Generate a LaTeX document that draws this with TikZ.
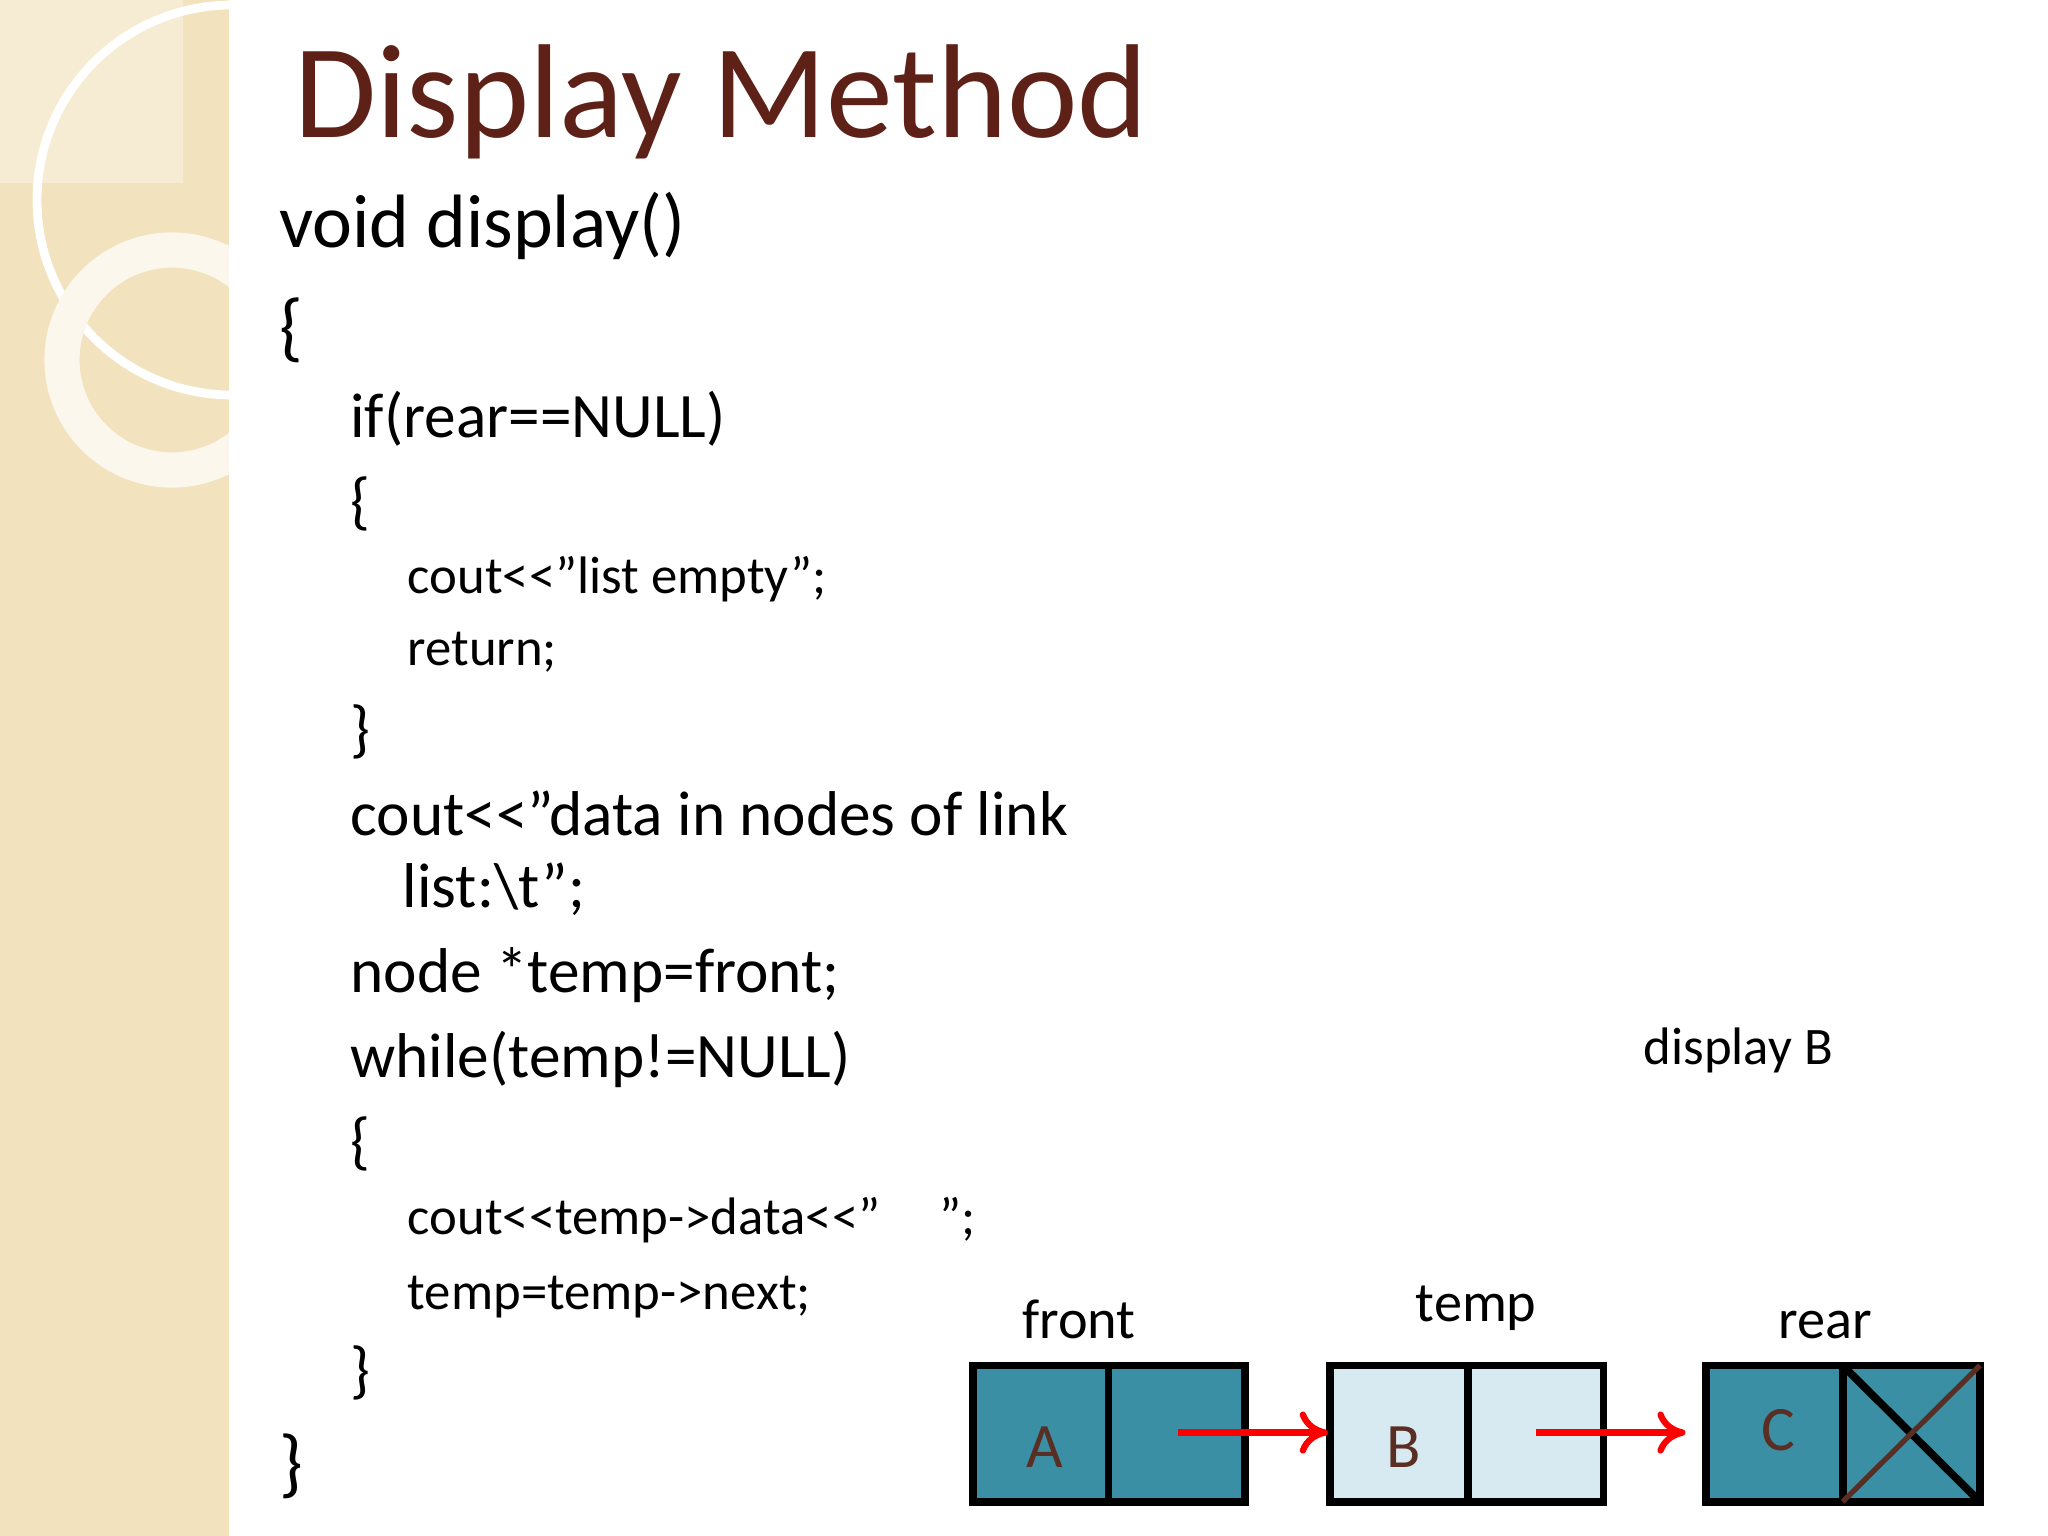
\documentclass[tikz,border=0pt]{standalone}
\usepackage{fontspec}
\setmainfont{Carlito}
\usepackage{xcolor}
\usetikzlibrary{positioning,calc,arrows.meta}
\definecolor{band}{HTML}{F2E3BE}
\definecolor{titlebrown}{HTML}{5E2117}
\definecolor{teal}{HTML}{3A8FA5}
\definecolor{pale}{HTML}{D8EAF1}
\definecolor{letter}{HTML}{5A2E22}
\newcommand\dq{\symbol{34}}

\begin{document}
\begin{tikzpicture}[
    x=0.01cm, y=-0.01cm,
    code/.style={anchor=base west, inner sep=0pt, font=\fontsize{21.5}{26}\selectfont},
    sub/.style={code, font=\fontsize{18}{22}\selectfont},
    small/.style={code, font=\fontsize{15}{18}\selectfont},
    ptr/.style={inner sep=0pt, anchor=base, font=\fontsize{16}{19}\selectfont},
    arrow/.style={-{To[length=8pt,width=12pt]}, red, line width=1.8pt},
]
\useasboundingbox (0,0) rectangle (2048,1536);

% Side band
\fill[band] (0,0) rectangle (229,1536);
\begin{scope}
\clip (0,0) rectangle (229,1536);
\fill[white, opacity=0.35] (0,0) rectangle (183,183);
\draw[white, line width=2.5pt] (232,200) circle (195);
\draw[white!70!band, line width=10pt] (172,360) circle (110);
\end{scope}

\begin{scope}[scale=0.988]
% Title
\node[code, font=\fontsize{38}{46}\selectfont, text=titlebrown] (title) at (297,139) {Display Method};

% Code lines
\node[code] (l1) at (282,251) {void display()};
\node[code] (l2) at (282,357) {\{};
\node[sub] (l3) at (354,443) {if(rear==NULL)};
\node[sub] (l4) at (354,529) {\{};
\node[small] (l5) at (412,601) {cout<{}<\dq list empty\dq;};
\node[small] (l6) at (412,674) {return;};
\node[sub] (l7) at (354,760) {\}};
\node[sub] (l8) at (354,846) {cout<{}<\dq data in nodes of link};
\node[sub] (l9) at (407,919) {list:\textbackslash t\dq;};
\node[sub] (l10) at (354,1005) {node *temp=front;};
\node[sub] (l11) at (354,1091) {while(temp!=NULL)};
\node[sub] (l12) at (354,1177) {\{};
\node[small] (l13) at (412,1249) {cout<{}<temp->data<{}<\dq\ \ \ \ \ \dq;};
\node[small] (l14) at (412,1325) {temp=temp->next;};
\node[sub] (l15) at (354,1408) {\}};
\node[code] (l16) at (282,1507) {\}};

\node[small] (disp) at (1663,1077) {display B};

% List nodes
\draw[line width=2.2pt, fill=teal] (985,1382) rectangle (1260,1520);
\draw[line width=2.2pt] (1122,1382) -- (1122,1520);
\draw[line width=2.2pt, fill=pale] (1346,1382) rectangle (1623,1520);
\draw[line width=2.2pt] (1486,1382) -- (1486,1520);
\draw[line width=2.2pt, fill=teal] (1727,1382) rectangle (2004,1520);
\draw[line width=2.2pt] (1865,1382) -- (1865,1520);
\draw[line width=2.2pt] (1865,1382) -- (2004,1520);
\draw[letter, line width=1.5pt] (1865,1520) -- (2004,1382);

\node[font=\fontsize{18}{22}\selectfont, text=letter] (a) at (1057,1465) {A};
\node[font=\fontsize{18}{22}\selectfont, text=letter] (b) at (1421,1465) {B};
\node[font=\fontsize{18}{22}\selectfont, text=letter] (c) at (1800,1448) {C};
\coordinate (a1) at (1192,1450);
\coordinate (b0) at (1344,1450);
\coordinate (b1) at (1555,1450);
\coordinate (c0) at (1706,1450);
\draw[arrow] (a1) -- (b0);
\draw[arrow] (b1) -- (c0);

\node[ptr] (front) at (1092,1355) {front};
\node[ptr] (temp) at (1494,1338) {temp};
\node[ptr] (rear) at (1847,1355) {rear};
\end{scope}
\end{tikzpicture}
\end{document}
